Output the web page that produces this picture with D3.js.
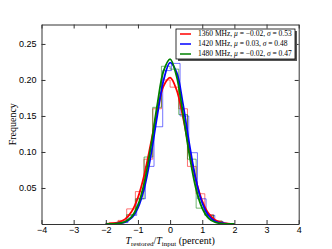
<!DOCTYPE html>
<html>
<head>
<meta charset="utf-8">
<script src="https://cdn.jsdelivr.net/npm/d3@7"></script>
<style>
  body { margin: 0; background: #fff; }
  svg { display: block; font-family: "Liberation Serif", "DejaVu Serif", serif; }
  .axis path, .axis line { stroke: #333; }
  .axis text { font-size: 9px; fill: #000; }
</style>
</head>
<body>
<svg class="chart"></svg>
<script>
// series labels
var seriesNames = ['1360 MHz', '1420 MHz', '1480 MHz'];
var seriesMu = ['\u22120.02', '0.03', '\u22120.02'];
var seriesSigma = ['0.53', '0.48', '0.47'];
var seriesColors = ['#ff0000', '#0000ff', '#008000'];

// histogram bins (left edge of first bin, then bin width 0.27)
var binWidth = 0.27;
var redStart = -1.89;
var redHist = [0.002, 0.005, 0.021, 0.045, 0.090, 0.160, 0.200, 0.190, 0.160, 0.080, 0.042, 0.013, 0.004];
var blueStart = -1.58;
var blueHist = [0.002, 0.012, 0.035, 0.080, 0.135, 0.213, 0.223, 0.150, 0.099, 0.035, 0.012, 0.003];
var greenStart = -1.62;
var greenHist = [0.003, 0.013, 0.035, 0.093, 0.162, 0.219, 0.215, 0.152, 0.090, 0.022, 0.012, 0.004];

// fitted curves
var curveX = [-2.0, -1.8, -1.6, -1.4, -1.2, -1.0, -0.8, -0.6, -0.4, -0.2, 0.0,
              0.2, 0.4, 0.6, 0.8, 1.0, 1.2, 1.4, 1.6, 1.8, 2.0];
var redCurve = [0.0002, 0.0007, 0.0024, 0.0068, 0.0170, 0.0368, 0.0688, 0.1117, 0.1571, 0.1918, 0.2031,
                0.1864, 0.1485, 0.1025, 0.0614, 0.0319, 0.0144, 0.0056, 0.0019, 0.0006, 0.0001];
var blueCurve = [0.0000, 0.0002, 0.0007, 0.0027, 0.0084, 0.0225, 0.0503, 0.0949, 0.1503, 0.2001, 0.2240,
                 0.2108, 0.1667, 0.1109, 0.0620, 0.0291, 0.0115, 0.0038, 0.0011, 0.0002, 0.0000];
var greenCurve = [0.0000, 0.0002, 0.0008, 0.0031, 0.0098, 0.0261, 0.0578, 0.1070, 0.1653, 0.2130, 0.2290,
                  0.2054, 0.1537, 0.0960, 0.0500, 0.0218, 0.0079, 0.0024, 0.0006, 0.0001, 0.0000];

var xTicks = [-4, -3, -2, -1, 0, 1, 2, 3, 4];
var yTicks = [0.05, 0.10, 0.15, 0.20, 0.25];

var margin = { top: 24.5, bottom: 25, right: 33.3, left: 41.5 },
    width = 332 - margin.left - margin.right,
    height = 249 - margin.top - margin.bottom;

var svg = d3.select('.chart')
    .attr('width', 332)
    .attr('height', 249);

var chart = svg.append('g')
    .attr('transform', 'translate(' + margin.left + ',' + margin.top + ')');

var x = d3.scaleLinear().domain([-4, 4]).range([0, width]);
var y = d3.scaleLinear().domain([0, 0.277]).range([height, 0]);

chart.append('clipPath').attr('id', 'clip')
    .append('rect').attr('width', width).attr('height', height);

var plot = chart.append('g').attr('clip-path', 'url(#clip)');

// step histograms
function stepPoints(start, vals) {
    var pts = [[start, 0]];
    vals.forEach(function (v, i) {
        pts.push([start + i * binWidth, v]);
        pts.push([start + (i + 1) * binWidth, v]);
    });
    pts.push([start + vals.length * binWidth, 0]);
    return pts;
}

var stepLine = d3.line()
    .x(function (d) { return x(d[0]); })
    .y(function (d) { return y(d[1]); });

var hists = [[redStart, redHist], [blueStart, blueHist], [greenStart, greenHist]];
hists.forEach(function (h, i) {
    plot.append('path')
        .attr('d', stepLine(stepPoints(h[0], h[1])))
        .attr('fill', 'none')
        .attr('stroke', seriesColors[i])
        .attr('stroke-opacity', 0.55)
        .attr('stroke-width', 1);
});

// gaussian fits
var fitLine = d3.line()
    .x(function (d, i) { return x(curveX[i]); })
    .y(function (d) { return y(d); })
    .curve(d3.curveCatmullRom);

[redCurve, blueCurve, greenCurve].forEach(function (c, i) {
    plot.append('path')
        .attr('d', fitLine(c))
        .attr('fill', 'none')
        .attr('stroke', seriesColors[i])
        .attr('stroke-width', 1.8);
});

// axes, ticks inside on all four sides
chart.append('g').attr('class', 'axis')
    .attr('transform', 'translate(0,' + height + ')')
    .call(d3.axisBottom(x).tickValues(xTicks).tickSizeInner(-4).tickSizeOuter(0).tickPadding(3));

chart.append('g').attr('class', 'axis')
    .call(d3.axisTop(x).tickValues(xTicks).tickSizeInner(-4).tickSizeOuter(0).tickFormat(''));

chart.append('g').attr('class', 'axis')
    .call(d3.axisLeft(y).tickValues(yTicks).tickSizeInner(-4).tickSizeOuter(0).tickPadding(5)
        .tickFormat(d3.format('.2f')));

chart.append('g').attr('class', 'axis')
    .attr('transform', 'translate(' + width + ',0)')
    .call(d3.axisRight(y).tickValues(yTicks).tickSizeInner(-4).tickSizeOuter(0).tickFormat(''));

// axis labels
svg.append('text')
    .attr('transform', 'translate(16,' + (margin.top + height / 2) + ') rotate(-90)')
    .attr('text-anchor', 'middle')
    .attr('font-size', 10)
    .text('Frequency');

var xl = svg.append('text')
    .attr('x', margin.left + width / 2)
    .attr('y', 244)
    .attr('text-anchor', 'middle')
    .attr('font-size', 10);
xl.append('tspan').attr('font-style', 'italic').text('T');
xl.append('tspan').attr('font-size', 7).attr('dy', 1.8).text('restored');
xl.append('tspan').attr('dy', -1.8).text('/');
xl.append('tspan').attr('font-style', 'italic').text('T');
xl.append('tspan').attr('font-size', 7).attr('dy', 1.8).text('input');
xl.append('tspan').attr('dy', -1.8).text(' (percent)');

// legend with shadow
var lg = chart.append('g')
    .attr('transform', 'translate(' + (176 - margin.left) + ',' + (29 - margin.top) + ')');
lg.append('rect').attr('x', 2).attr('y', 2).attr('width', 119).attr('height', 30)
    .attr('fill', '#555');
lg.append('rect').attr('width', 119).attr('height', 30)
    .attr('fill', '#fff').attr('stroke', '#000').attr('stroke-width', 0.8);

seriesNames.forEach(function (name, i) {
    var row = lg.append('g').attr('transform', 'translate(0,' + (5 + i * 10) + ')');
    row.append('line').attr('x1', 4).attr('x2', 15).attr('y1', 0).attr('y2', 0)
        .attr('stroke', seriesColors[i]).attr('stroke-width', 1.5);
    var t = row.append('text').attr('x', 22).attr('y', 2.4).attr('font-size', 7.5);
    t.append('tspan').text(name + ', ');
    t.append('tspan').attr('font-style', 'italic').text('\u03bc');
    t.append('tspan').text(' = ' + seriesMu[i] + ', ');
    t.append('tspan').attr('font-style', 'italic').text('\u03c3');
    t.append('tspan').text(' = ' + seriesSigma[i]);
});
</script>
</body>
</html>
